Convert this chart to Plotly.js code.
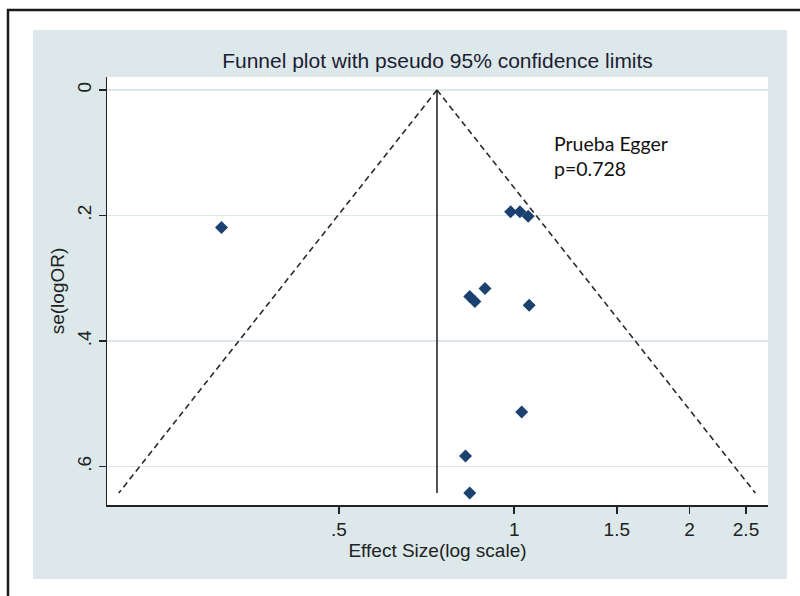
<!DOCTYPE html>
<html>
<head>
<meta charset="utf-8">
<script src="https://cdn.plot.ly/plotly-3.0.1.min.js"></script>
<style>html,body{margin:0;padding:0;background:#fff;}#chart{width:800px;height:596px;}</style>
</head>
<body>
<div id="chart"></div>
<script>
// Study effect sizes (odds ratios, log scale axis) and their standard errors
const effectSize = [0.3145, 0.986, 1.023, 1.057, 0.891, 0.839, 0.856, 1.061, 1.030, 0.825, 0.839];
const seLogOR    = [0.219, 0.194, 0.194, 0.201, 0.316, 0.329, 0.337, 0.343, 0.513, 0.583, 0.642];

// Pooled estimate line and pseudo 95% confidence limits
const pooledX   = [0.737, 0.737];
const pooledSE  = [0, 0.642];
const lowerLimX = [0.737, 0.2095];
const upperLimX = [0.737, 2.594];
const limitSE   = [0, 0.642];

// Tick labels
const xTickVals = [0.5, 1, 1.5, 2, 2.5];
const xTickText = ['.5', '1', '1.5', '2', '2.5'];
const yTickVals = [0, 0.2, 0.4, 0.6];
const yTickText = ['0', '.2', '.4', '.6'];

const titleText = 'Funnel plot with pseudo 95% confidence limits';
const xTitle = 'Effect Size(log scale)';
const yTitle = 'se(logOR)';
const eggerText = 'Prueba Egger<br>p=0.728';

const font = 'Liberation Sans, Arial, sans-serif';
const navy = '#1a416f';

const traces = [
  {x: lowerLimX, y: limitSE, mode: 'lines', line: {color: '#2a2a2a', width: 1.6, dash: '6px,4px'}, hoverinfo: 'skip'},
  {x: upperLimX, y: limitSE, mode: 'lines', line: {color: '#2a2a2a', width: 1.6, dash: '6px,4px'}, hoverinfo: 'skip'},
  {x: pooledX, y: pooledSE, mode: 'lines', line: {color: '#1a1a1a', width: 1.5}, hoverinfo: 'skip'},
  {x: effectSize, y: seLogOR, mode: 'markers', marker: {symbol: 'diamond', size: 10, color: navy}}
];

const layout = {
  width: 800, height: 596,
  margin: {l: 107, r: 32, t: 77, b: 91},
  paper_bgcolor: '#ffffff',
  plot_bgcolor: '#ffffff',
  showlegend: false,
  font: {family: font, color: '#111'},
  title: {text: titleText, font: {family: font, size: 21, color: '#1c1c34'},
          x: 0.5, xref: 'paper', y: 0.899, yref: 'container', yanchor: 'middle'},
  xaxis: {
    type: 'log',
    range: [Math.log10(0.2), Math.log10(2.727)],
    tickvals: xTickVals, ticktext: xTickText,
    ticks: 'outside', ticklen: 7, tickwidth: 1.5, tickcolor: '#222',
    showline: true, linecolor: '#222', linewidth: 1.5,
    showgrid: false, zeroline: false,
    tickfont: {family: font, size: 19, color: '#222'},
    title: {text: xTitle, font: {family: font, size: 19, color: '#222'}, standoff: 0}
  },
  yaxis: {
    range: [0.661, -0.0207],
    autorange: false,
    tickvals: yTickVals, ticktext: yTickText,
    tickangle: -90,
    ticks: 'outside', ticklen: 7, tickwidth: 1.5, tickcolor: '#222',
    showline: true, linecolor: '#222', linewidth: 1.5,
    showgrid: true, gridcolor: '#dbe7eb', gridwidth: 1.5,
    zeroline: false,
    tickfont: {family: font, size: 19, color: '#222'},
    title: {text: yTitle, font: {family: font, size: 19, color: '#222'}, standoff: 4}
  },
  shapes: [
    {type: 'rect', xref: 'paper', yref: 'paper', x0: -0.112, x1: 1.0287, y0: -0.1729, y1: 1.1098,
     fillcolor: '#dce8ea', line: {width: 0}, layer: 'below'},
    {type: 'rect', xref: 'paper', yref: 'paper', x0: 0, x1: 1, y0: 0, y1: 1,
     fillcolor: '#ffffff', line: {width: 0}, layer: 'below'},
    {type: 'rect', xref: 'paper', yref: 'paper', x0: -0.1498, x1: 1.3, y0: -0.3, y1: 1.1565,
     fillcolor: 'rgba(0,0,0,0)', line: {color: '#1a1a1a', width: 2.5}, layer: 'above'}
  ],
  annotations: [
    {text: eggerText, xref: 'paper', yref: 'paper', x: 0.6732, y: 0.8154,
     xanchor: 'left', yanchor: 'middle', align: 'left', showarrow: false,
     font: {family: 'Lato, Carlito, Calibri, sans-serif', size: 19.5, color: '#111'}}
  ]
};

Plotly.newPlot('chart', traces, layout, {displayModeBar: false, staticPlot: true});
</script>
</body>
</html>
